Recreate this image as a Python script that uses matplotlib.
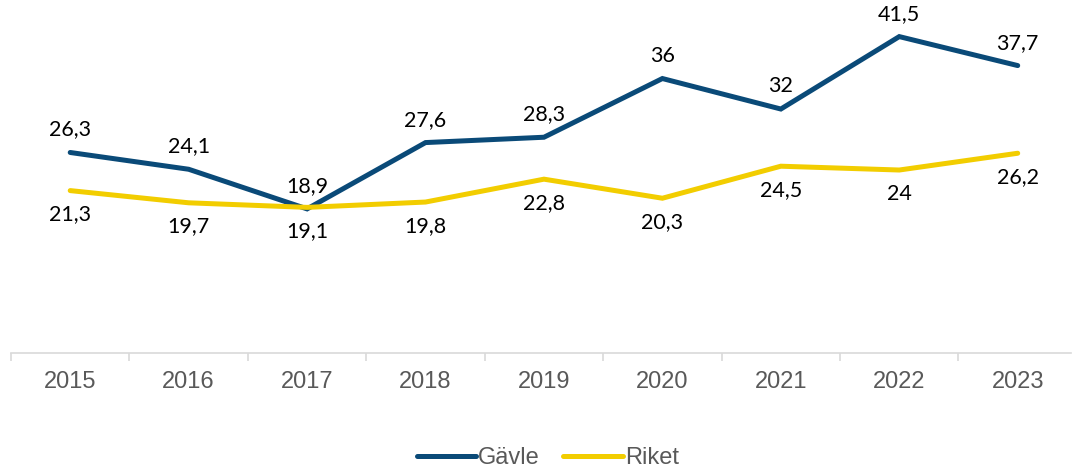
import matplotlib.pyplot as plt
from matplotlib.lines import Line2D

years = ["2015", "2016", "2017", "2018", "2019", "2020", "2021", "2022", "2023"]
gavle = [26.3, 24.1, 18.9, 27.6, 28.3, 36, 32, 41.5, 37.7]
riket = [21.3, 19.7, 19.1, 19.8, 22.8, 20.3, 24.5, 24, 26.2]

navy = "#0A4A78"
yellow = "#F2CD00"
grey = "#595959"

fig = plt.figure(figsize=(10.72, 4.70), dpi=100)
ax = fig.add_axes([11 / 1072, 117 / 470, 1060 / 1072, 353 / 470])

x = list(range(len(years)))
ax.plot(x, gavle, color=navy, lw=3.6, solid_capstyle="round", solid_joinstyle="miter")
ax.plot(x, riket, color=yellow, lw=3.6, solid_capstyle="round", solid_joinstyle="miter")


def fmt(v):
    s = f"{v:g}"
    return s.replace(".", ",")


for i in x:
    ax.annotate(fmt(gavle[i]), (i, gavle[i]), xytext=(0, 16.5), textcoords="offset points",
                ha="center", va="center", fontsize=15.5, family="Lato", color="black")
    ax.annotate(fmt(riket[i]), (i, riket[i]), xytext=(0, -17), textcoords="offset points",
                ha="center", va="center", fontsize=15.5, family="Lato", color="black")

ax.set_xlim(-0.5, 8.45)
ax.set_ylim(0, 46.3)

for side in ["top", "right", "left"]:
    ax.spines[side].set_visible(False)
ax.spines["bottom"].set_color("#D9D9D9")
ax.spines["bottom"].set_linewidth(1.2)
ax.set_yticks([])

ax.set_xticks(x)
ax.set_xticklabels(years, family="Liberation Sans", fontsize=17, color=grey)
ax.tick_params(axis="x", which="major", length=0, pad=13)
ax.set_xticks([i - 0.5 for i in range(len(years))], minor=True)
ax.tick_params(axis="x", which="minor", length=6, width=1.2, color="#D9D9D9")

handles = [Line2D([], [], color=navy, lw=3.6, solid_capstyle="round"),
           Line2D([], [], color=yellow, lw=3.6, solid_capstyle="round")]
fig.legend(handles, ["Gävle", "Riket"], loc="center", bbox_to_anchor=(0.511, 12 / 470),
           ncol=2, frameon=False, handlelength=2.5, handletextpad=0.1, columnspacing=1.0,
           prop={"family": "Liberation Sans", "size": 17}, labelcolor=grey)

fig.savefig("out.png", dpi=100)
